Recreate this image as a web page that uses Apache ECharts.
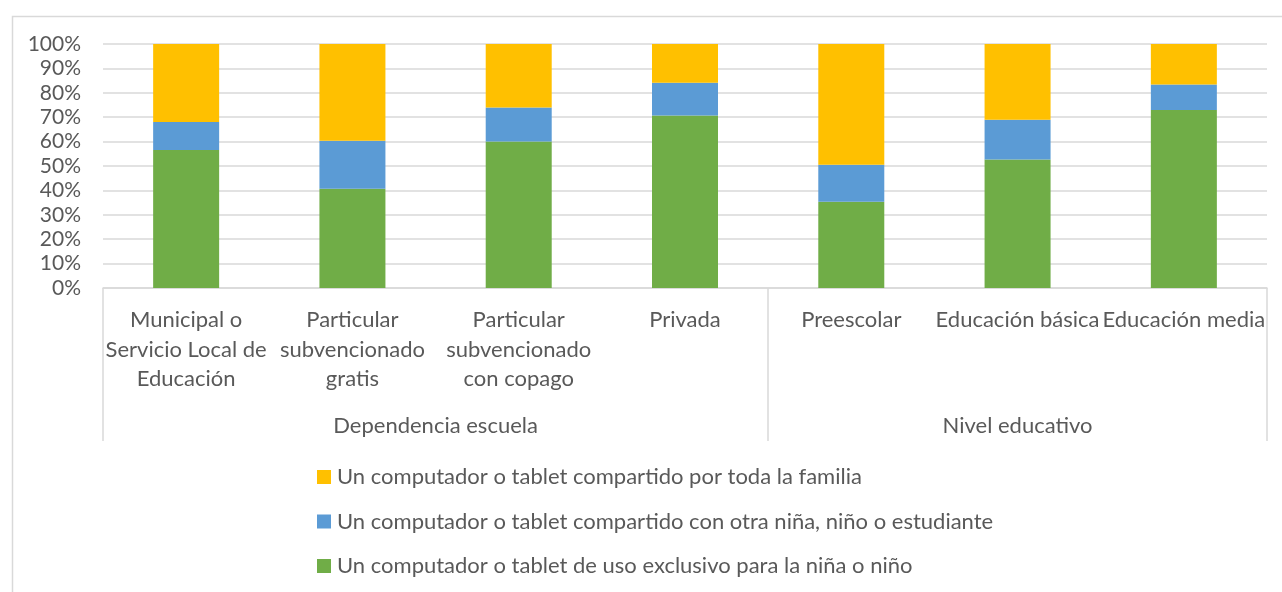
<!DOCTYPE html>
<html>
<head>
<meta charset="utf-8">
<script src="https://cdn.jsdelivr.net/npm/echarts@6/dist/echarts.min.js"></script>
<style>html,body{margin:0;padding:0;background:#fff;}#c{width:1282px;height:592px;}</style>
</head>
<body>
<div id="c"></div>
<script>
const categories = ['Municipal o\nServicio Local de\nEducación', 'Particular\nsubvencionado\ngratis', 'Particular\nsubvencionado\ncon copago', 'Privada', 'Preescolar', 'Educación básica', 'Educación media'];
const groupNames = ['Dependencia escuela', 'Nivel educativo'];
const groupSizes = [4, 3];
const seriesNames = ['Un computador o tablet de uso exclusivo para la niña o niño', 'Un computador o tablet compartido con otra niña, niño o estudiante', 'Un computador o tablet compartido por toda la familia'];
const exclusivo = [56.6, 40.7, 60.0, 70.7, 35.3, 52.7, 73.0];
const compartidoOtro = [11.4, 19.6, 14.0, 13.4, 15.2, 16.3, 10.4];
const compartidoFamilia = [32.0, 39.7, 26.0, 15.9, 49.5, 31.0, 16.6];
const yTicks = [0, 10, 20, 30, 40, 50, 60, 70, 80, 90, 100];

const colors = ['#70AD47', '#5B9BD5', '#FFC000'];
const font = 'Lato, sans-serif';
const txt = '#595959';
const fs = 22;

const bounds = [0];
groupSizes.forEach(s => bounds.push(bounds[bounds.length - 1] + s));
const centers = groupSizes.map((s, i) => bounds[i] + s / 2);

const chart = echarts.init(document.getElementById('c'));
chart.setOption({
  animation: false,
  textStyle: { fontFamily: font },
  graphic: [{
    type: 'rect', left: 10, top: 14, shape: { width: 1300, height: 620 },
    style: { fill: 'none', stroke: '#d9d9d9', lineWidth: 1.5 }, silent: true, z: -10
  }],
  grid: { left: 103, right: 15, top: 44, bottom: 304, containLabel: false },
  legend: {
    orient: 'vertical', left: 312, top: 461, itemGap: 22.5,
    itemWidth: 14, itemHeight: 14, icon: 'rect',
    data: [seriesNames[2], seriesNames[1], seriesNames[0]],
    textStyle: { fontSize: fs, lineHeight: 22, color: txt, fontFamily: font, padding: [0, 0, 0, 1] }
  },
  xAxis: [{
    type: 'category', data: categories, position: 'bottom',
    axisLine: { show: true, lineStyle: { color: '#d9d9d9', width: 1.5 } },
    axisTick: { show: false },
    axisLabel: { interval: 0, color: txt, fontSize: fs, lineHeight: 29.5, margin: 17.5, fontFamily: font, verticalAlign: 'top' }
  }, {
    type: 'value', min: 0, max: categories.length, position: 'bottom',
    axisLine: { show: false },
    splitLine: { show: false },
    axisTick: { show: true, customValues: bounds, length: 153, lineStyle: { color: '#d9d9d9', width: 1.5 } },
    axisLabel: {
      customValues: centers, margin: 127, color: txt, fontSize: fs, fontFamily: font,
      formatter: v => { const i = centers.findIndex(c => Math.abs(c - v) < 1e-6); return i >= 0 ? groupNames[i] : ''; }
    }
  }],
  yAxis: {
    type: 'value', min: 0, max: 100, interval: 10,
    axisLine: { show: false }, axisTick: { show: false },
    splitLine: { lineStyle: { color: '#d9d9d9', width: 1.5 } },
    axisLabel: { formatter: '{value}%', color: txt, fontSize: 21, margin: 22, fontFamily: font, customValues: yTicks }
  },
  series: [
    { name: seriesNames[0], type: 'bar', stack: 's', data: exclusivo, barWidth: 66, itemStyle: { color: colors[0] } },
    { name: seriesNames[1], type: 'bar', stack: 's', data: compartidoOtro, barWidth: 66, itemStyle: { color: colors[1] } },
    { name: seriesNames[2], type: 'bar', stack: 's', data: compartidoFamilia, barWidth: 66, itemStyle: { color: colors[2] } }
  ]
});
</script>
</body>
</html>
